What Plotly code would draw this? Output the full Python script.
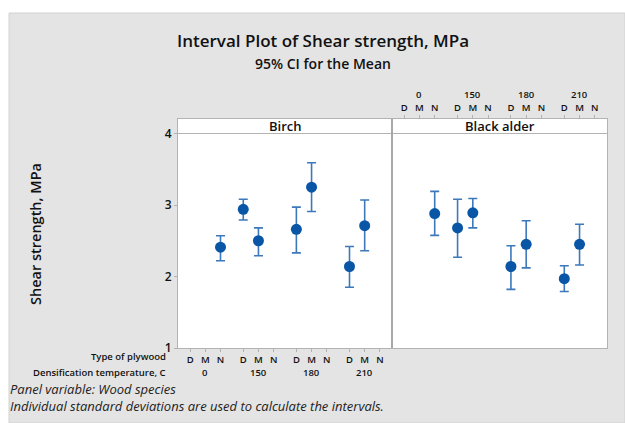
import plotly.graph_objects as go

# ---- data: 95% CI for the mean shear strength (MPa) ----
temperatures = ["0", "150", "180", "210"]
plywood_types = ["D", "M", "N"]

# one entry per (temperature, plywood type); None = no observations
birch_mean = [None, None, 2.41, 2.94, 2.50, None, 2.66, 3.25, None, 2.14, 2.71, None]
birch_low = [None, None, 2.22, 2.79, 2.29, None, 2.33, 2.91, None, 1.85, 2.36, None]
birch_high = [None, None, 2.57, 3.08, 2.68, None, 2.97, 3.59, None, 2.42, 3.07, None]

alder_mean = [None, None, 2.88, 2.68, 2.89, None, 2.14, 2.45, None, 1.97, 2.45, None]
alder_low = [None, None, 2.575, 2.27, 2.68, None, 1.82, 2.12, None, 1.79, 2.16, None]
alder_high = [None, None, 3.19, 3.08, 3.09, None, 2.43, 2.78, None, 2.15, 2.73, None]

panels = ["Birch", "Black alder"]
y_ticks = [1, 2, 3, 4]

# ---- layout constants (pixels in a 625 x 423 page) ----
W, H = 625, 423
GROUP_STEP = 3.5  # spacing between temperature groups, in type units

def px(x):
    return x / W

def py(y):
    return 1 - y / H

positions = [g * GROUP_STEP + t for g in range(len(temperatures)) for t in range(len(plywood_types))]
tick_text = [p for _ in temperatures for p in plywood_types]
group_centers = [g * GROUP_STEP + 1 for g in range(len(temperatures))]

BLUE = "#0a56a6"
BAR = "#3d78bb"
FRAME = "#b3b3b3"
FONT = "Open Sans"

fig = go.Figure()

def add_series(mean, low, high, xa, ya):
    xs, ys, up, dn = [], [], [], []
    for x, m, lo, hi in zip(positions, mean, low, high):
        if m is None:
            continue
        xs.append(x)
        ys.append(m)
        up.append(hi - m)
        dn.append(m - lo)
    fig.add_trace(go.Scatter(
        x=xs, y=ys, mode="markers", xaxis=xa, yaxis=ya,
        marker=dict(size=11, color=BLUE),
        error_y=dict(type="data", array=up, arrayminus=dn, symmetric=False,
                     color=BAR, thickness=1.6, width=4.5),
        showlegend=False, hoverinfo="x+y",
    ))

add_series(birch_mean, birch_low, birch_high, "x", "y")
add_series(alder_mean, alder_low, alder_high, "x2", "y2")

left_x0, mid_x, right_x1 = 178, 392, 607
top_y, bot_y, strip_top = 133.5, 348, 119
x_range = [-0.8, positions[-1] + 0.8]
# data area runs from 1 (bottom) to 4 (strip bottom); axes extend up through the strip
unit_px = (bot_y - top_y) / 3.0
y_range = [1, 4 + (top_y - strip_top) / unit_px]
y_dom = [py(bot_y), py(strip_top)]

axis_common = dict(range=x_range, tickvals=positions, ticktext=tick_text,
                   ticks="outside", ticklen=3, tickcolor=FRAME, showgrid=False,
                   zeroline=False, showline=True, linecolor=FRAME, linewidth=1,
                   mirror=True, fixedrange=True, automargin=False,
                   tickfont=dict(family=FONT, size=9.5, color="#111", weight=600))

fig.update_layout(
    width=W, height=H,
    margin=dict(l=0, r=0, t=0, b=0, pad=0, autoexpand=False),
    paper_bgcolor="white", plot_bgcolor="white",
    xaxis=dict(domain=[px(left_x0), px(mid_x)], side="bottom", anchor="y", **axis_common),
    xaxis2=dict(domain=[px(mid_x), px(right_x1)], side="top", anchor="y2", **axis_common),
    yaxis=dict(domain=y_dom, range=y_range, tickvals=y_ticks, ticks="outside", ticklen=3,
               tickcolor=FRAME, showgrid=False, zeroline=False, showline=True,
               linecolor=FRAME, linewidth=1, mirror=True, fixedrange=True, automargin=False,
               tickfont=dict(family=FONT, size=12, color="#111", weight=600)),
    yaxis2=dict(domain=y_dom, range=y_range, anchor="x2", showticklabels=False, ticks="",
                showgrid=False, zeroline=False, showline=True, linecolor=FRAME,
                linewidth=1, mirror=True, fixedrange=True, automargin=False),
)

shapes = [
    # grey page background
    dict(type="rect", xref="paper", yref="paper", x0=px(9), x1=1.0, y0=0, y1=py(13),
         fillcolor="#e4e4e4", line=dict(color="#d2d2d2", width=1), layer="below"),
]
for x0, x1 in [(left_x0, mid_x), (mid_x, right_x1)]:
    # white plot area under the traces
    shapes.append(dict(type="rect", xref="paper", yref="paper", x0=px(x0), x1=px(x1),
                       y0=py(bot_y), y1=py(strip_top), fillcolor="white",
                       line=dict(width=0), layer="below"))
    # strip bottom rule
    shapes.append(dict(type="line", xref="paper", yref="paper", x0=px(x0), x1=px(x1),
                       y0=py(top_y), y1=py(top_y), line=dict(color=FRAME, width=1.2)))
# thicker divider between panels
shapes.append(dict(type="line", xref="paper", yref="paper", x0=px(mid_x), x1=px(mid_x),
                   y0=py(bot_y), y1=py(strip_top), line=dict(color="#a8a8a8", width=2)))
fig.update_layout(shapes=shapes)


def label(text, x, y, size, xref="paper", xanchor="center", weight=600, color="#111", **kw):
    return dict(text=text, x=x, y=y, xref=xref, yref="paper", showarrow=False,
                xanchor=xanchor, yanchor="middle",
                font=dict(family=FONT, size=size, color=color, weight=weight), **kw)


ann = []
# titles
ann.append(label("Interval Plot of Shear strength, MPa", px(323), py(40.5), 17))
ann.append(label("95% CI for the Mean", px(323), py(63), 14))
# panel labels
for name, (x0, x1) in zip(panels, [(left_x0, mid_x), (mid_x, right_x1)]):
    ann.append(label(name, px((x0 + x1) / 2), py((strip_top + top_y) / 2), 13))
# y-axis title
ann.append(label("Shear strength, MPa", px(35), py(234), 14.5, textangle=-90))
# row labels for the bottom categorical axis
ann.append(label("Type of plywood", px(168), py(356), 9.5, xanchor="right"))
ann.append(label("Densification temperature, C", px(168), py(372), 9.5, xanchor="right"))
# temperature group labels
for t, c in zip(temperatures, group_centers):
    ann.append(label(t, c, py(372), 9.5, xref="x"))
    ann.append(label(t, c, py(94), 9.5, xref="x2"))
# footnotes
ann.append(label("<i>Panel variable: Wood species<br>"
                 "Individual standard deviations are used to calculate the intervals.</i>",
                 px(8), py(397.5), 13, xanchor="left", weight=400, color="#222", align="left"))
fig.update_layout(annotations=ann)

fig.write_html("out.html")
